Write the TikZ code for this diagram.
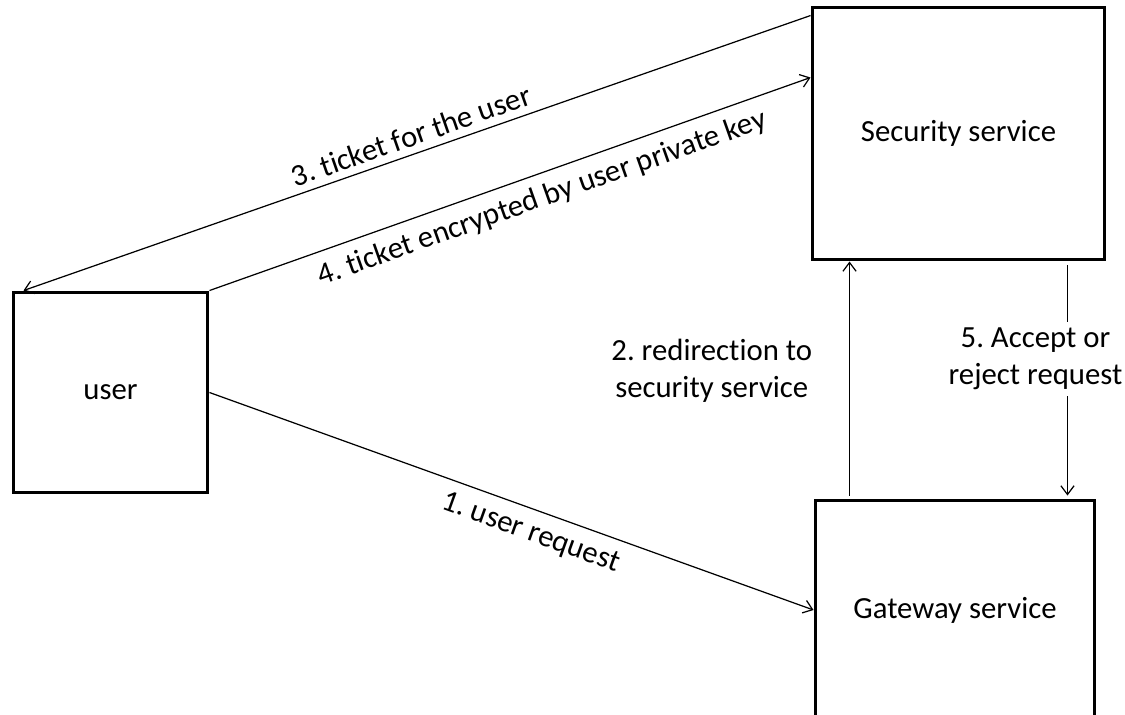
\documentclass[tikz,border=0pt]{standalone}
\usepackage{fontspec}
\setmainfont{Carlito}[Ligatures=NoCommon]
\usepackage{tikz}
\usetikzlibrary{positioning,arrows.meta,calc}
\frenchspacing

\begin{document}
\begin{tikzpicture}[
  x=0.02cm, y=-0.02cm,
  font=\fontsize{17.5}{21}\selectfont,
  box/.style={rectangle, draw, line width=1.7pt, align=center, inner sep=0pt},
  arrow/.style={-{Straight Barb[length=5pt,width=7.5pt]}, line width=0.7pt},
  msg/.style={sloped, inner sep=4pt}
]
\clip (0,0) rectangle (1125,714);

% Services
\node[box, minimum width=3.9cm, minimum height=4.02cm] (user) at (110.5,392.5) {user};
\node[box, minimum width=5.86cm, minimum height=5.06cm] (security) at (958.5,133.5) {Security service};
\node[box, minimum width=5.6cm, minimum height=4.4cm] (gateway) at (955,610) {Gateway service};

% Messages
\draw[arrow] (user.east) -- node[msg, below, pos=0.545, inner sep=6pt] {1. user request} (gateway.west);
\draw[arrow] ([xshift=0.72cm, yshift=0.06cm]gateway.north west) -- ([xshift=0.72cm]gateway.north west |- security.south)
  node[midway, left, align=center, xshift=-0.62cm, yshift=0.16cm] {2. redirection to\\security service};
\draw[arrow] ([yshift=-0.2cm]security.north west) -- node[msg, above, midway] {3. ticket for the user} ([xshift=0.24cm]user.north west);
\draw[arrow] (user.north east) -- node[msg, below, pos=0.54, inner sep=6pt] {4. ticket encrypted by user private key} ([yshift=-1.44cm]security.north west);
\draw[arrow] ([xshift=-0.78cm, yshift=-0.08cm]security.south east) -- ([xshift=-0.78cm, yshift=0.06cm]security.south east |- gateway.north)
  node[pos=0.45, fill=white, align=center, xshift=-0.64cm, yshift=0.2cm] {5. Accept or\\reject request};

\end{tikzpicture}
\end{document}
